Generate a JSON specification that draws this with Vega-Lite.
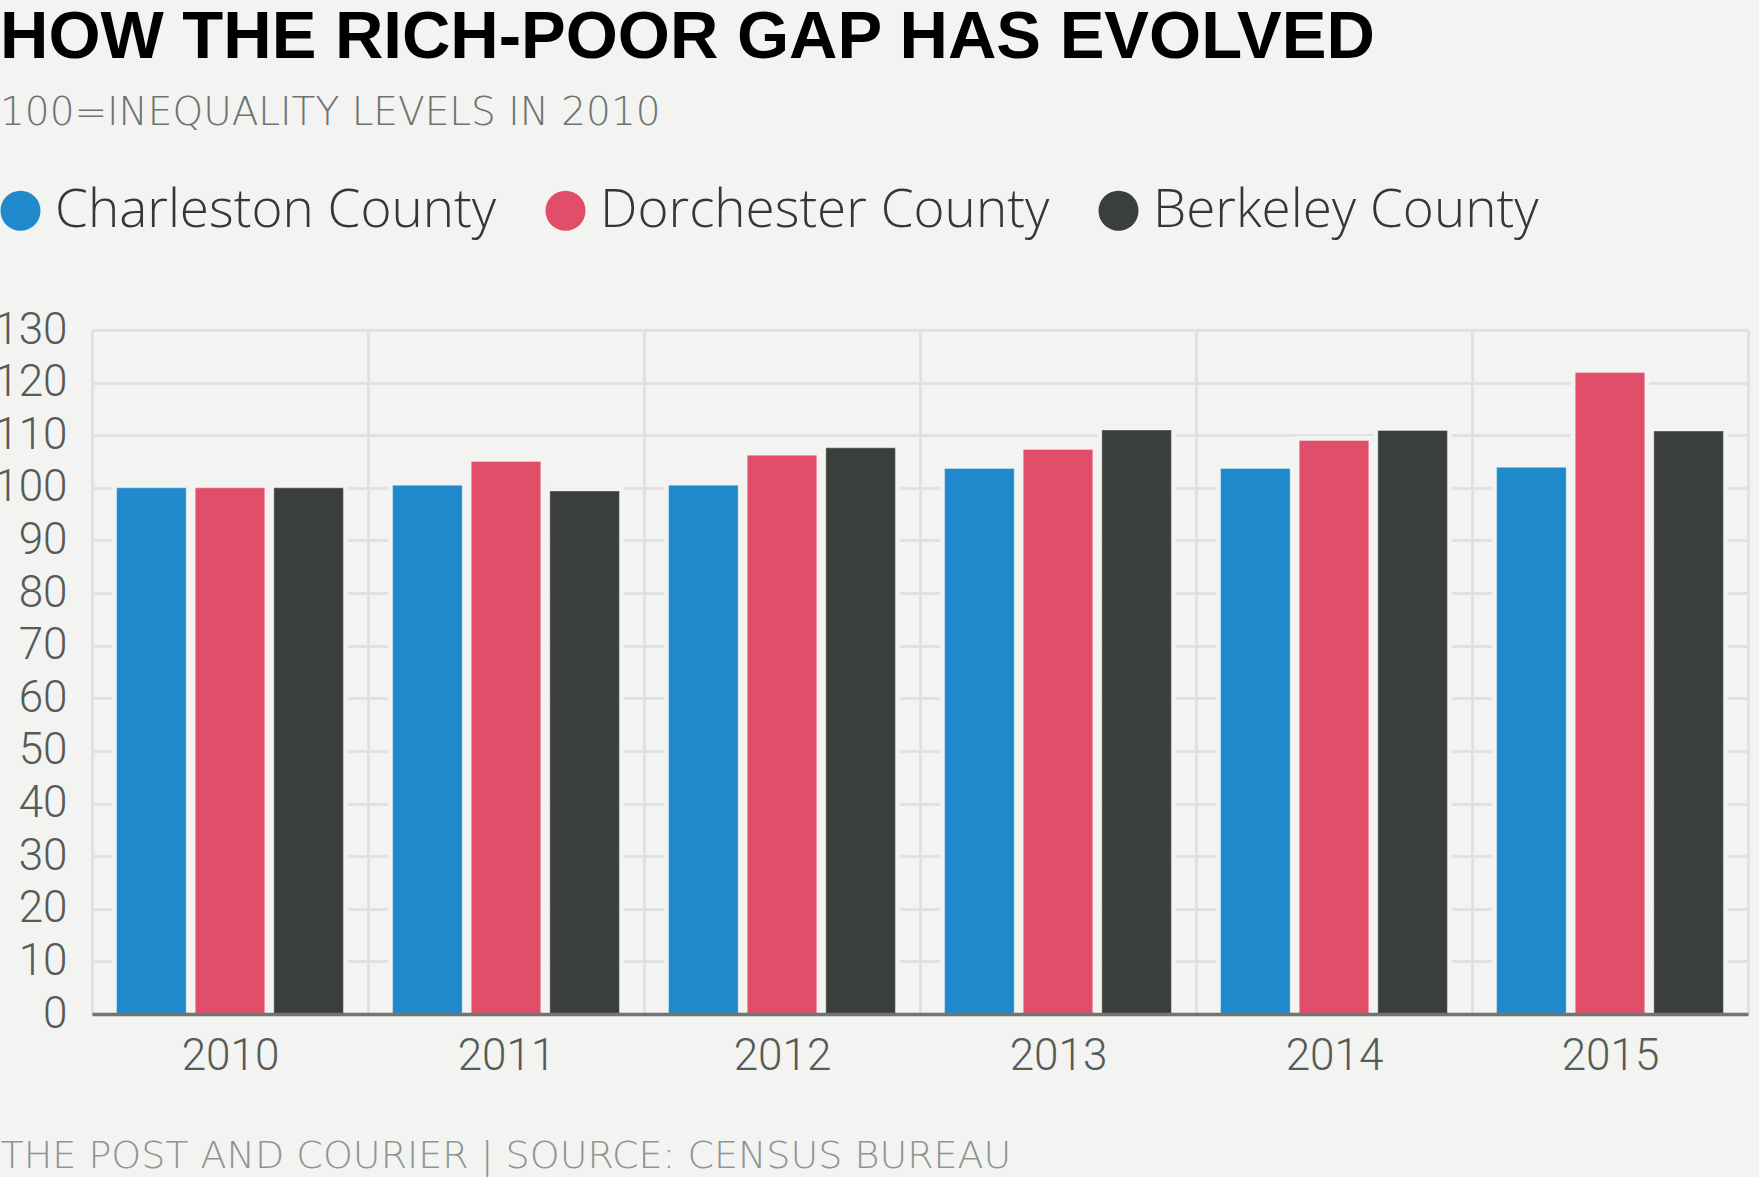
{
  "$schema": "https://vega.github.io/schema/vega-lite/v6.json",
  "width": 1656,
  "height": 684,
  "autosize": {"type": "none"},
  "padding": {"left": 92, "top": 330, "right": 11, "bottom": 163},
  "background": "#f3f3f1",
  "title": {
    "text": "HOW THE RICH-POOR GAP HAS EVOLVED",
    "subtitle": "100=INEQUALITY LEVELS IN 2010",
    "anchor": "start",
    "frame": "group",
    "dx": -92,
    "font": "Liberation Sans",
    "fontSize": 67,
    "fontWeight": "bold",
    "color": "#000000",
    "subtitleFont": "DejaVu Sans",
    "subtitleFontSize": 39,
    "subtitleFontWeight": 200,
    "subtitleColor": "#6d7470",
    "subtitlePadding": 22,
    "offset": 50
  },
  "data": {
    "values": [
      {"year": "2010", "county": "Charleston County", "index": 100},
      {"year": "2010", "county": "Dorchester County", "index": 100},
      {"year": "2010", "county": "Berkeley County", "index": 100},
      {"year": "2011", "county": "Charleston County", "index": 100.5},
      {"year": "2011", "county": "Dorchester County", "index": 105.0},
      {"year": "2011", "county": "Berkeley County", "index": 99.4},
      {"year": "2012", "county": "Charleston County", "index": 100.5},
      {"year": "2012", "county": "Dorchester County", "index": 106.2},
      {"year": "2012", "county": "Berkeley County", "index": 107.6},
      {"year": "2013", "county": "Charleston County", "index": 103.7},
      {"year": "2013", "county": "Dorchester County", "index": 107.3},
      {"year": "2013", "county": "Berkeley County", "index": 111.0},
      {"year": "2014", "county": "Charleston County", "index": 103.7},
      {"year": "2014", "county": "Dorchester County", "index": 109.0},
      {"year": "2014", "county": "Berkeley County", "index": 110.9},
      {"year": "2015", "county": "Charleston County", "index": 103.9},
      {"year": "2015", "county": "Dorchester County", "index": 121.9},
      {"year": "2015", "county": "Berkeley County", "index": 110.8}
    ]
  },
  "encoding": {
    "x": {
      "field": "year",
      "type": "nominal",
      "scale": {"paddingInner": 0, "paddingOuter": 0},
      "axis": {
        "zindex": 1,
        "tickBand": "extent",
        "grid": true,
        "gridColor": "#dfe1e3",
        "gridWidth": 3,
        "ticks": false,
        "labelAngle": 0,
        "labelFont": "Roboto",
        "labelFontWeight": 300,
        "labelFontSize": 44,
        "labelColor": "#555b57",
        "labelPadding": 20,
        "domainColor": "#6f7571",
        "domainWidth": 3.5,
        "title": "THE POST AND COURIER | SOURCE: CENSUS BUREAU",
        "titleX": -92,
        "titleY": 153,
        "titleAlign": "left",
        "titleBaseline": "alphabetic",
        "titleFont": "DejaVu Sans",
        "titleFontSize": 38,
        "titleFontWeight": 200,
        "titleColor": "#8e9591"
      }
    },
    "xOffset": {
      "field": "county",
      "type": "nominal",
      "sort": ["Charleston County", "Dorchester County", "Berkeley County"],
      "scale": {"paddingInner": 0.115, "paddingOuter": 0.313}
    },
    "y": {
      "field": "index",
      "type": "quantitative",
      "scale": {"domain": [0, 130], "nice": false},
      "axis": {
        "values": [0, 10, 20, 30, 40, 50, 60, 70, 80, 90, 100, 110, 120, 130],
        "grid": true,
        "gridColor": "#dfe1e3",
        "gridWidth": 3,
        "domain": false,
        "ticks": false,
        "labelFont": "Roboto",
        "labelFontWeight": 300,
        "labelFontSize": 44,
        "labelColor": "#555b57",
        "labelPadding": 25,
        "title": null
      }
    }
  },
  "layer": [
    {
      "mark": {"type": "bar", "color": "#f3f3f1", "stroke": "#f3f3f1", "strokeWidth": 9}
    },
    {
      "mark": {"type": "bar", "stroke": "#ffffff", "strokeOpacity": 0.35, "strokeWidth": 1},
      "encoding": {
        "color": {
          "field": "county",
          "type": "nominal",
          "sort": ["Charleston County", "Dorchester County", "Berkeley County"],
          "scale": {
            "domain": ["Charleston County", "Dorchester County", "Berkeley County"],
            "range": ["#1f89cc", "#e04e6a", "#3a3f3c"]
          },
          "legend": {
            "orient": "none",
            "legendX": -98,
            "legendY": -146,
            "direction": "horizontal",
            "title": null,
            "symbolType": "circle",
            "symbolSize": 1600,
            "symbolStrokeWidth": 0,
            "symbolOpacity": 1,
            "labelFont": "Open Sans",
            "labelFontWeight": 300,
            "labelFontSize": 53,
            "labelColor": "#333836",
            "labelOffset": 8,
            "columnPadding": 42,
            "labelLimit": 600
          }
        }
      }
    }
  ],
  "config": {"view": {"stroke": null}}
}
